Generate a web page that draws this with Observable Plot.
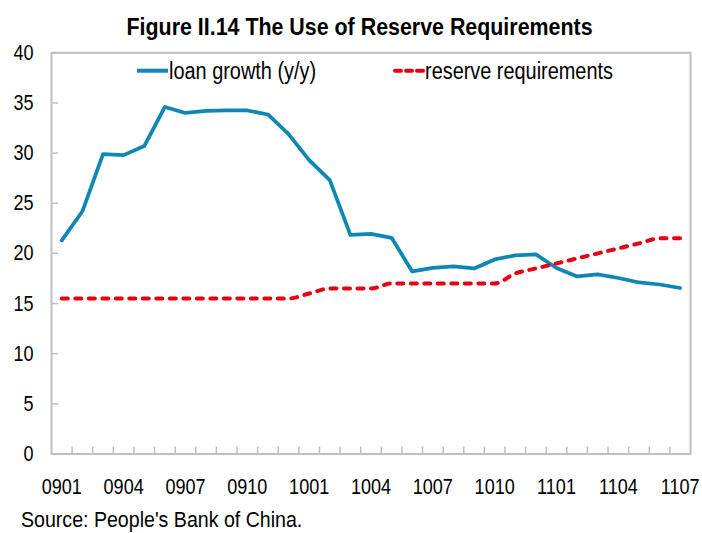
<!DOCTYPE html>
<html>
<head>
<meta charset="utf-8">
<script src="https://cdn.jsdelivr.net/npm/d3@7"></script>
<script src="https://cdn.jsdelivr.net/npm/@observablehq/plot@0.6"></script>
<style>
  html, body { margin: 0; padding: 0; background: #fff; }
  #wrap { position: relative; width: 702px; height: 533px; overflow: hidden; background: #fff;
          font-family: "Liberation Sans", Arial, sans-serif; color: #000; }
  #title { position: absolute; left: 0; top: 14px; width: 720px; text-align: center; }
  #title span { display: inline-block; font-weight: bold; font-size: 23px; line-height: 26px;
                transform: scaleX(0.93); transform-origin: 50% 50%; white-space: nowrap; }
  #chart { position: absolute; left: 0; top: 42px; }
  #legend { position: absolute; top: 57px; left: 0; width: 702px; height: 28px; font-size: 23px; line-height: 28px; }
  .lg { position: absolute; top: 0; white-space: nowrap; }
  .lg svg { position: absolute; top: 0; }
  .lg span { position: absolute; top: 0; display: inline-block; transform: scaleX(0.865); transform-origin: 0 50%; }
  #caption { position: absolute; left: 21px; top: 508px; font-size: 22px; line-height: 24px;
             transform: scaleX(0.89); transform-origin: 0 50%; white-space: nowrap; }
</style>
</head>
<body>
<div id="wrap">
  <div id="title"><span>Figure II.14 The Use of Reserve Requirements</span></div>
  <div id="chart"></div>
  <div id="legend"></div>
  <div id="caption">Source: People's Bank of China.</div>
</div>
<script>
const months = ["0901","0902","0903","0904","0905","0906","0907","0908","0909","0910","0911","0912",
                "1001","1002","1003","1004","1005","1006","1007","1008","1009","1010","1011","1012",
                "1101","1102","1103","1104","1105","1106","1107"];
const loanGrowth = [21.3, 24.2, 29.9, 29.8, 30.7, 34.6, 34.0, 34.2, 34.25, 34.25, 33.85, 31.9,
                    29.3, 27.3, 21.85, 21.95, 21.55, 18.2, 18.55, 18.7, 18.5, 19.4, 19.8, 19.9,
                    18.55, 17.7, 17.9, 17.55, 17.1, 16.9, 16.55];
const reserveReq = [15.5, 15.5, 15.5, 15.5, 15.5, 15.5, 15.5, 15.5, 15.5, 15.5, 15.5, 15.5,
                    16.0, 16.5, 16.5, 16.5, 17.0, 17.0, 17.0, 17.0, 17.0, 17.0, 18.0, 18.5,
                    19.0, 19.5, 20.0, 20.5, 21.0, 21.5, 21.5];
const tickLabels = ["0901","0904","0907","0910","1001","1004","1007","1010","1101","1104","1107"];
const yTicks = [0, 5, 10, 15, 20, 25, 30, 35, 40];
const seriesNames = ["loan growth (y/y)", "reserve requirements"];

const BLUE = "#0F87B4", RED = "#E60012", GRAY = "#BFBFBF";
const FONT = '"Liberation Sans", Arial, sans-serif';
const NARROW = 0.82;

const table = months.map((m, i) => ({i, m, loan: loanGrowth[i], rrr: reserveReq[i]}));
const labelIdx = tickLabels.map(l => months.indexOf(l));
const boundaries = months.slice(1).map((_, i) => i + 0.5);

const chart = Plot.plot({
  width: 702,
  height: 460,
  marginTop: 10.3,
  marginBottom: 48.5,
  marginLeft: 51,
  marginRight: 12,
  style: {fontFamily: FONT, fontSize: "21px", color: "#000", background: "transparent", overflow: "visible"},
  x: {type: "linear", domain: [-0.5, months.length - 0.5], label: null},
  y: {domain: [0, 40], label: null},
  marks: [
    Plot.axisY({ticks: yTicks, tickSize: 7, dx: 7, tickFormat: () => "", label: null, stroke: GRAY, strokeWidth: 1.5}),
    Plot.axisY({ticks: yTicks, tickSize: 0, tickPadding: 18, label: null, fontSize: 22, fill: "#000"}),
    Plot.axisX({ticks: boundaries, tickSize: 7, dy: -7, tickFormat: () => "", label: null, stroke: GRAY, strokeWidth: 1.5}),
    Plot.axisX({ticks: labelIdx, tickSize: 0, tickPadding: 24, label: null, fontSize: 22, fill: "#000", tickFormat: i => months[i]}),
    Plot.frame({stroke: GRAY, strokeWidth: 2}),
    Plot.lineY(table, {x: "i", y: "loan", stroke: BLUE, strokeWidth: 3.75, strokeLinejoin: "round"}),
    Plot.lineY(table, {x: "i", y: "rrr", stroke: RED, strokeWidth: 4, curve: "monotone-x",
                       strokeDasharray: "6,7.5", strokeLinecap: "round"})
  ]
});
document.getElementById("chart").appendChild(chart);

// condense SVG text horizontally (narrow face look)
chart.querySelectorAll("text").forEach(t => {
  if (!t.textContent) return;
  try {
    const len = t.getComputedTextLength();
    if (len > 0) {
      t.setAttribute("textLength", (len * NARROW).toFixed(2));
      t.setAttribute("lengthAdjust", "spacingAndGlyphs");
    }
  } catch (e) {}
});

// legend
const legend = document.getElementById("legend");
const items = [
  {name: seriesNames[0], color: BLUE, dash: null, left: 137},
  {name: seriesNames[1], color: RED, dash: "6,5", left: 393}
];
for (const it of items) {
  const d = document.createElement("div");
  d.className = "lg";
  d.style.left = it.left + "px";
  d.innerHTML = `<svg width="32" height="28" style="left:0"><line x1="${it.dash ? 2 : 0}" x2="${it.dash ? 30 : 31}" y1="13.7" y2="13.7" stroke="${it.color}" stroke-width="4" ${it.dash ? `stroke-dasharray="${it.dash}" stroke-linecap="round"` : ""}/></svg><span style="left:32px">${it.name}</span>`;
  legend.appendChild(d);
}
</script>
</body>
</html>
